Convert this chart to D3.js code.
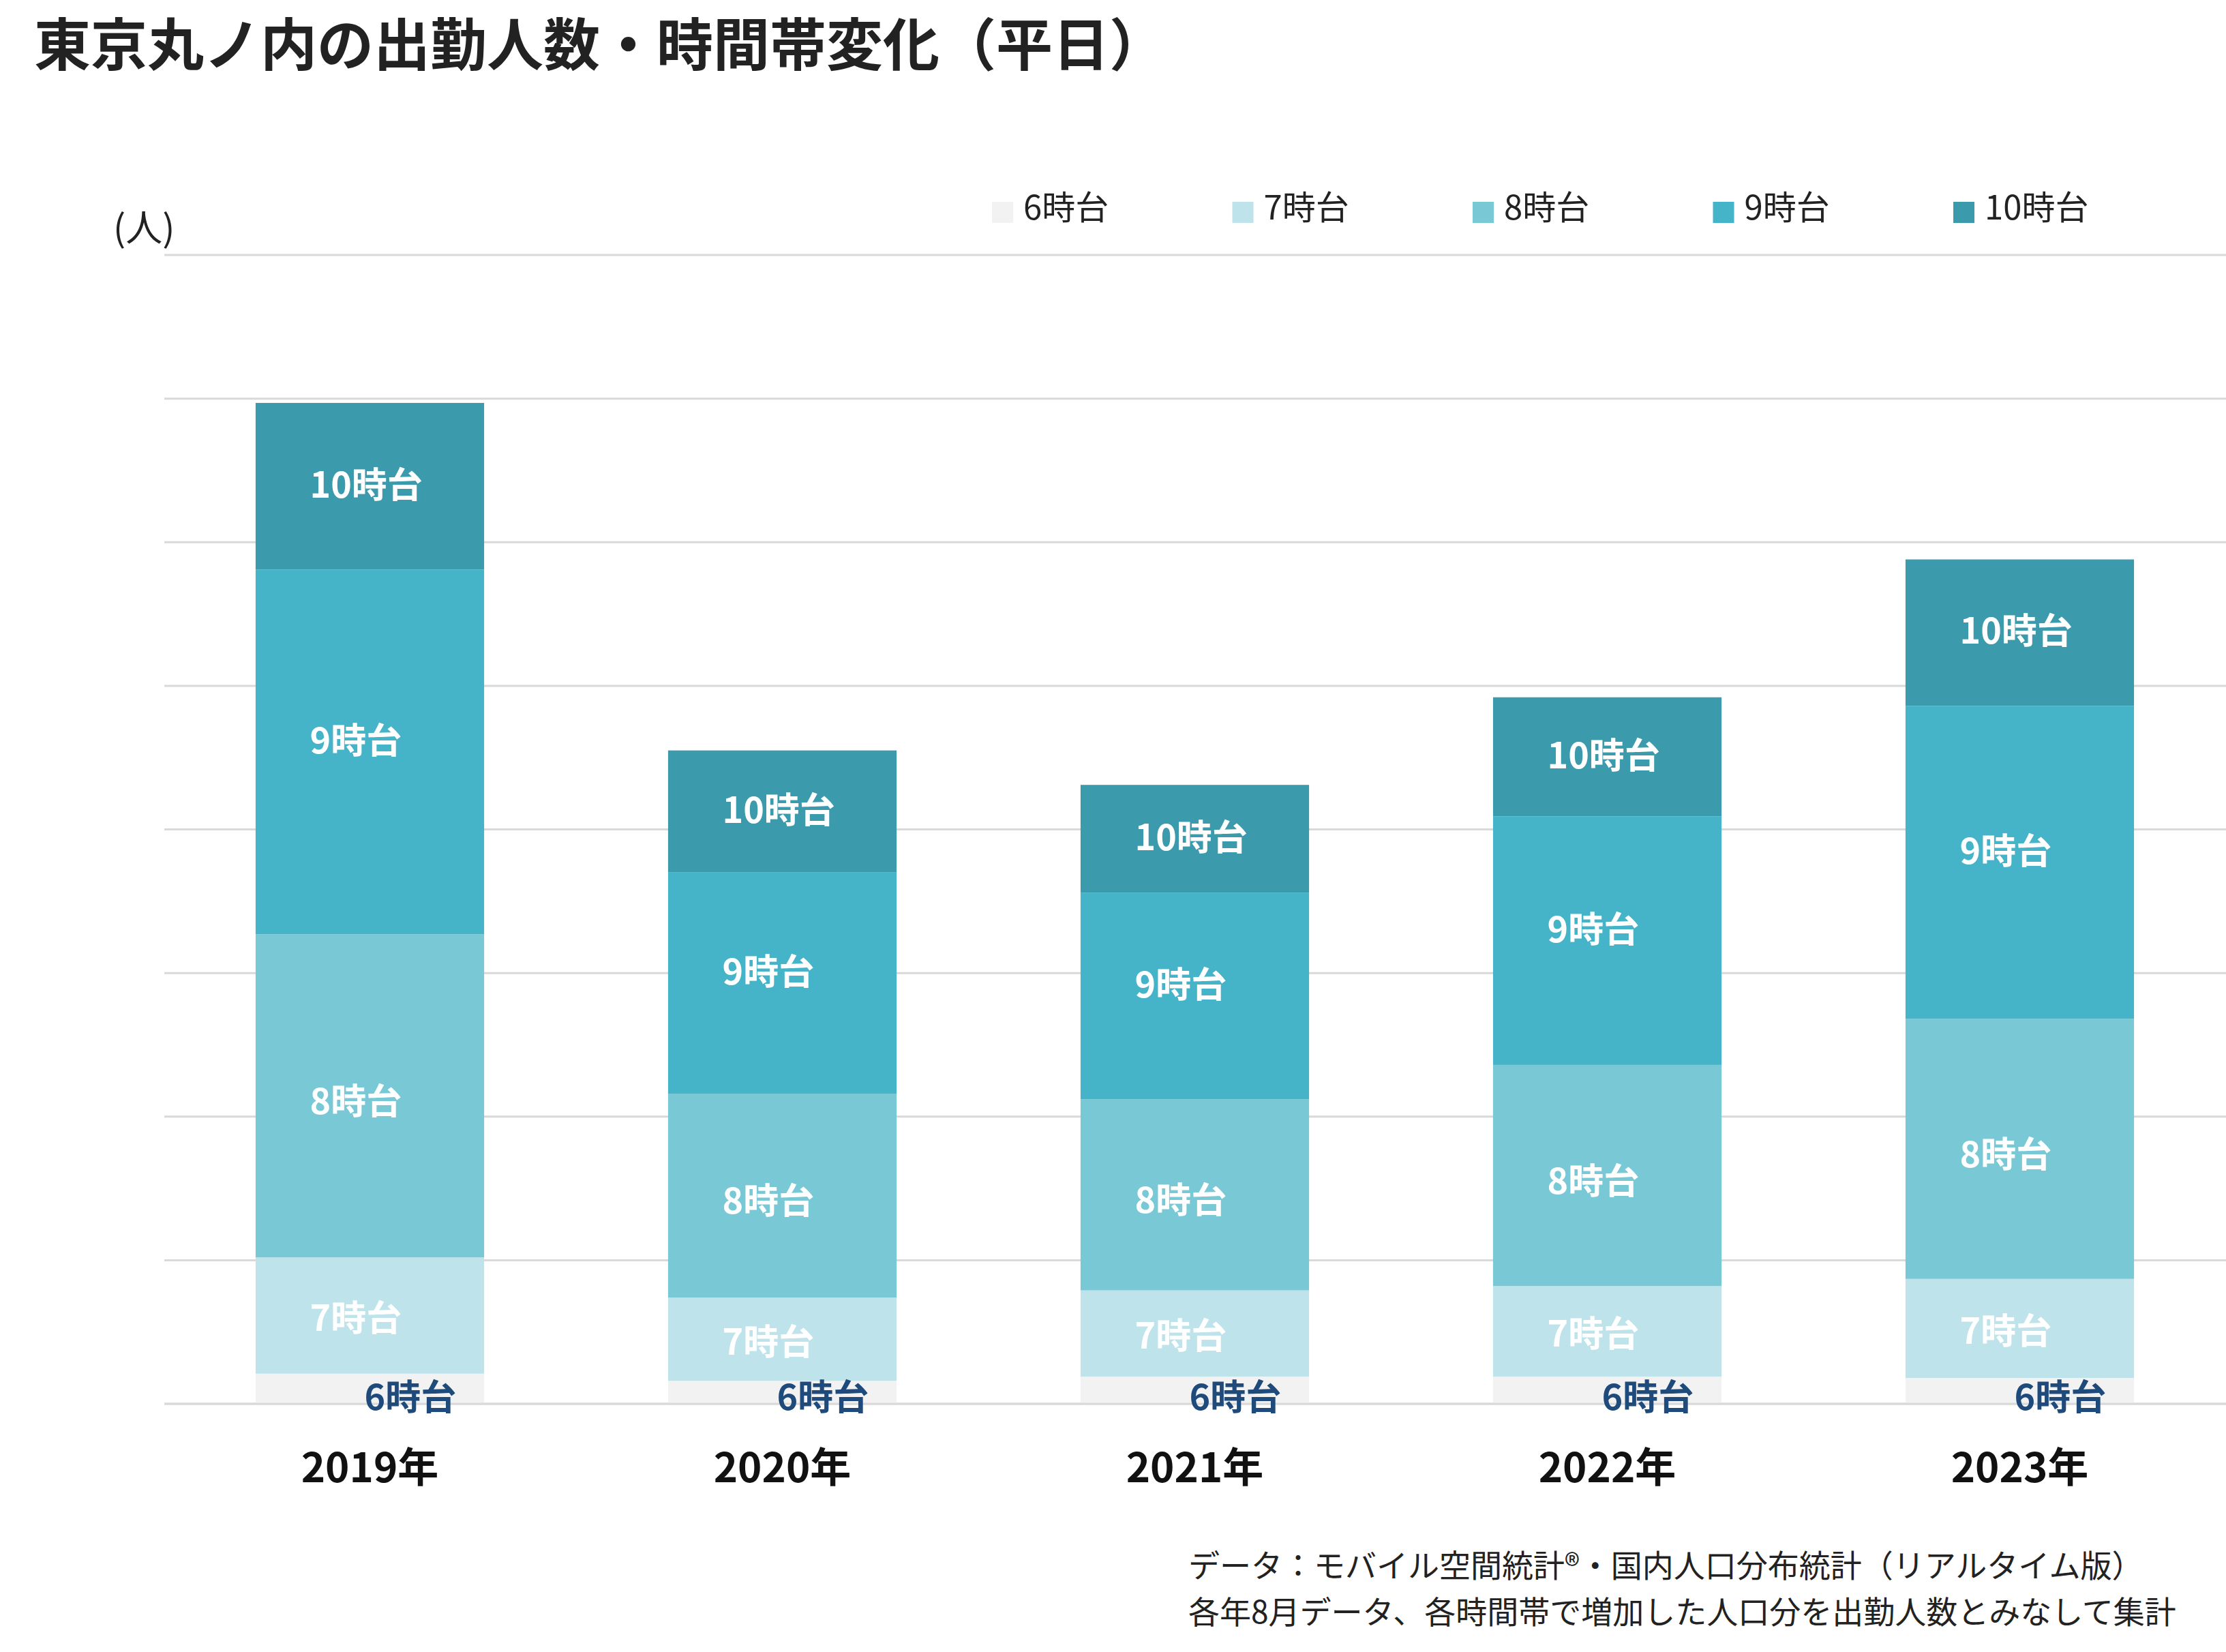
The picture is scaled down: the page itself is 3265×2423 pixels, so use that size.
<!DOCTYPE html>
<html>
<head>
<meta charset="utf-8">
<script src="https://cdn.jsdelivr.net/npm/d3@7"></script>
<style>
  html, body { margin: 0; padding: 0; background: #fff; }
  svg { display: block; font-family: "Noto Sans CJK JP", "Noto Sans", sans-serif; }
</style>
</head>
<body>
<svg id="chart"></svg>
<script>
// years on the x axis
const years = ['2019年', '2020年', '2021年', '2022年', '2023年'];
// hour bands, bottom to top
const bands = ['6時台', '7時台', '8時台', '9時台', '10時台'];
// people arriving in each hour band (gridline step = 10000)
const h6  = [2100, 1600, 1900, 1900, 1800];
const h7  = [8100, 5800, 6000, 6300, 6900];
const h8  = [22500, 14200, 13300, 15400, 18100];
const h9  = [25400, 15400, 14400, 17300, 21800];
const h10 = [11600, 8500, 7500, 8300, 10200];
const gridTicks = [0, 10000, 20000, 30000, 40000, 50000, 60000, 70000, 80000];

const title = '東京丸ノ内の出勤人数・時間帯変化（平日）';
const unitLabel = '(人)';
const notes = [
  'データ：モバイル空間統計®・国内人口分布統計（リアルタイム版）',
  '各年8月データ、各時間帯で増加した人口分を出勤人数とみなして集計'
];

(function () {
  const W = 3265, H = 2423;
  const colors = {
    '6時台': '#f2f2f2',
    '7時台': '#bee3eb',
    '8時台': '#79c8d6',
    '9時台': '#45b3c8',
    '10時台': '#3c9aad'
  };
  // small vertical nudges of the in-bar labels, as placed in the original
  const labelNudge = { '7時台': 0, '8時台': 4, '9時台': -20, '10時台': -6 };

  // table for d3.stack
  const cols = [h6, h7, h8, h9, h10];
  const rows = years.map((yr, i) => {
    const o = { year: yr };
    bands.forEach((b, j) => { o[b] = cols[j][i]; });
    return o;
  });
  const series = d3.stack().keys(bands)(rows);

  const svg = d3.select('#chart').attr('width', W).attr('height', H);
  svg.append('rect').attr('width', W).attr('height', H).attr('fill', '#fff');

  const x = d3.scaleBand().domain(years).range([240, 3265])
    .paddingInner(0.446).paddingOuter(0.223);
  const y = d3.scaleLinear().domain([0, 80000]).range([2059, 374]);
  const bw = x.bandwidth();

  // title
  svg.append('text')
    .attr('x', 50).attr('y', 60)
    .attr('dominant-baseline', 'central')
    .attr('font-size', 83).attr('font-weight', 700).attr('fill', '#222')
    .text(title);

  // unit label
  svg.append('text')
    .attr('x', 166).attr('y', 330)
    .attr('dominant-baseline', 'central')
    .attr('font-size', 54).attr('fill', '#222')
    .text(unitLabel);

  // gridlines
  svg.append('g').selectAll('line')
    .data(gridTicks)
    .join('line')
    .attr('x1', 241).attr('x2', W)
    .attr('y1', d => y(d)).attr('y2', d => y(d))
    .attr('stroke', '#d9d9d9').attr('stroke-width', 3);

  // stacked bars
  const layer = svg.append('g').selectAll('g')
    .data(series)
    .join('g')
    .attr('fill', d => colors[d.key]);
  layer.selectAll('rect')
    .data(d => d)
    .join('rect')
    .attr('x', d => x(d.data.year))
    .attr('width', bw)
    .attr('y', d => y(d[1]))
    .attr('height', d => y(d[0]) - y(d[1]));

  // baseline redrawn above the 6時台 segment
  svg.append('line')
    .attr('x1', 241).attr('x2', W)
    .attr('y1', y(0)).attr('y2', y(0))
    .attr('stroke', '#d9d9d9').attr('stroke-width', 3);

  // segment labels
  series.forEach(s => {
    const isBottom = s.key === '6時台';
    svg.append('g').selectAll('text')
      .data(s)
      .join('text')
      .attr('x', d => x(d.data.year) + bw / 2 + (isBottom ? -8 : -88))
      .attr('y', d => isBottom ? y(0) - 14 : (y(d[0]) + y(d[1])) / 2 + labelNudge[s.key])
      .attr('dominant-baseline', 'central')
      .attr('font-size', 52).attr('font-weight', 700)
      .attr('fill', isBottom ? '#1f4a7c' : '#fff')
      .text(s.key);
  });

  // x axis labels
  svg.append('g').selectAll('text')
    .data(years)
    .join('text')
    .attr('x', d => x(d) + bw / 2)
    .attr('y', 2147)
    .attr('text-anchor', 'middle')
    .attr('dominant-baseline', 'central')
    .attr('font-size', 60).attr('font-weight', 700).attr('fill', '#111')
    .text(d => d);

  // legend
  const leg = svg.append('g').selectAll('g')
    .data(bands)
    .join('g')
    .attr('transform', (d, i) => `translate(${1455 + i * 352.5},296)`);
  leg.append('rect')
    .attr('width', 31).attr('height', 31)
    .attr('fill', d => colors[d]);
  leg.append('text')
    .attr('x', 46).attr('y', 4)
    .attr('dominant-baseline', 'central')
    .attr('font-size', 49).attr('fill', '#222')
    .text(d => d);

  // notes
  svg.append('g').selectAll('text')
    .data(notes)
    .join('text')
    .attr('x', 1743)
    .attr('y', (d, i) => 2293 + i * 68)
    .attr('dominant-baseline', 'central')
    .attr('font-size', 46).attr('fill', '#222')
    .text(d => d);
})();
</script>
</body>
</html>
